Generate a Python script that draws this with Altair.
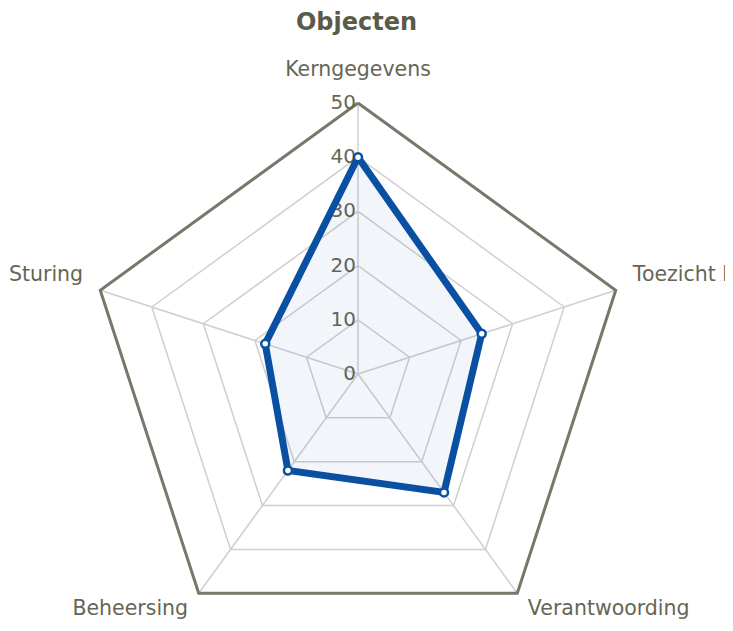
import math
import altair as alt
import pandas as pd

# ---- data ----
CATEGORIES = ["Kerngegevens", "Toezicht houden", "Verantwoording", "Beheersing", "Sturing"]
VALUES = [40, 24, 27, 22, 18]
TICKS = [0, 10, 20, 30, 40, 50]
RING_LEVELS = [10, 20, 30, 40]
MAX_LEVEL = 50
TITLE = "Objecten"

# ---- geometry / style ----
PX = 5.42            # pixels per data unit
W, H = 717, 575      # plot area
CX, CY = 350, 326    # centre in plot pixels
BLUE = "#0a50a2"
TEXT = "#666655"
FONT = "DejaVu Sans"

xscale = alt.Scale(domain=[-CX / PX, (W - CX) / PX], nice=False, zero=False)
yscale = alt.Scale(domain=[-(H - CY) / PX, CY / PX], nice=False, zero=False)

n = len(CATEGORIES)
ang = [2 * math.pi * i / n for i in range(n)]


def pt(r, a):
    return r * math.sin(a), r * math.cos(a)


rows = []
for lvl in RING_LEVELS + [MAX_LEVEL]:
    for k in range(n + 1):
        x, y = pt(lvl, ang[k % n])
        rows.append({"level": lvl, "order": k, "x": x, "y": y})
rings = pd.DataFrame(rows)

spk = []
for i, c in enumerate(CATEGORIES):
    for k, r in enumerate([0, MAX_LEVEL]):
        x, y = pt(r, ang[i])
        spk.append({"cat": c, "order": k, "x": x, "y": y})
spokes = pd.DataFrame(spk)

ser = []
for k in range(n + 1):
    i = k % n
    x, y = pt(VALUES[i], ang[i])
    ser.append({"cat": CATEGORIES[i], "value": VALUES[i], "order": k, "x": x, "y": y})
series = pd.DataFrame(ser)

LABEL_GAP = 18 / PX
lab = []
for i, c in enumerate(CATEGORIES):
    s, co = math.sin(ang[i]), math.cos(ang[i])
    lx = (MAX_LEVEL + LABEL_GAP) * s
    ly = (MAX_LEVEL + LABEL_GAP + 9 / PX) * co + 6.5 / PX
    side = "center" if abs(s) < 1e-6 else ("left" if s > 0 else "right")
    lab.append({"cat": c, "x": lx, "y": ly, "side": side})
labels = pd.DataFrame(lab)

ticks = pd.DataFrame({"v": TICKS, "x": [0] * len(TICKS), "label": [str(t) for t in TICKS]})

X = alt.X("x:Q", scale=xscale, axis=None)
Y = alt.Y("y:Q", scale=yscale, axis=None)

inner = alt.Chart(rings).transform_filter(alt.datum.level < MAX_LEVEL).mark_line(
    color="#cfcfcf", strokeWidth=1.5).encode(x=X, y=Y, detail="level:N", order="order:Q")
spoke = alt.Chart(spokes).mark_line(color="#cfcfcf", strokeWidth=1.5).encode(
    x=X, y=Y, detail="cat:N", order="order:Q")
outer = alt.Chart(rings).transform_filter(alt.datum.level == MAX_LEVEL).mark_line(
    color="#77776a", strokeWidth=3).encode(x=X, y=Y, detail="level:N", order="order:Q")

tick_txt = alt.Chart(ticks).mark_text(
    align="right", baseline="middle", dx=-2, fontSize=20, font=FONT, color=TEXT
).encode(x=X, y=alt.Y("v:Q", scale=yscale, axis=None), text="label:N")

area = alt.Chart(series).mark_line(
    fill=BLUE, fillOpacity=0.055, stroke=BLUE, strokeWidth=7
).encode(x=X, y=Y, order="order:Q")

pts = alt.Chart(series[series.order < n]).mark_point(
    filled=True, fill="white", stroke=BLUE, strokeWidth=2.5, size=64, opacity=1
).encode(x=X, y=Y)


def label_layer(side):
    return alt.Chart(labels).transform_filter(alt.datum.side == side).mark_text(
        align=side, baseline="middle", fontSize=20.5, font=FONT, color=TEXT
    ).encode(x=X, y=Y, text="cat:N")


chart = alt.layer(
    inner, spoke, outer, tick_txt, area, pts,
    label_layer("center"), label_layer("left"), label_layer("right"),
).properties(
    width=W, height=H,
    title=alt.TitleParams(TITLE, fontSize=24, fontWeight="bold", font=FONT,
                          color="#5a5a48", anchor="middle", dx=-10, dy=-9),
    autosize=alt.AutoSizeParams(type="none"),
    padding={"left": 0, "top": 40, "right": 0, "bottom": 0},
).configure_view(stroke=None)

chart.save("out.html", embed_options={"renderer": "svg", "actions": False})
